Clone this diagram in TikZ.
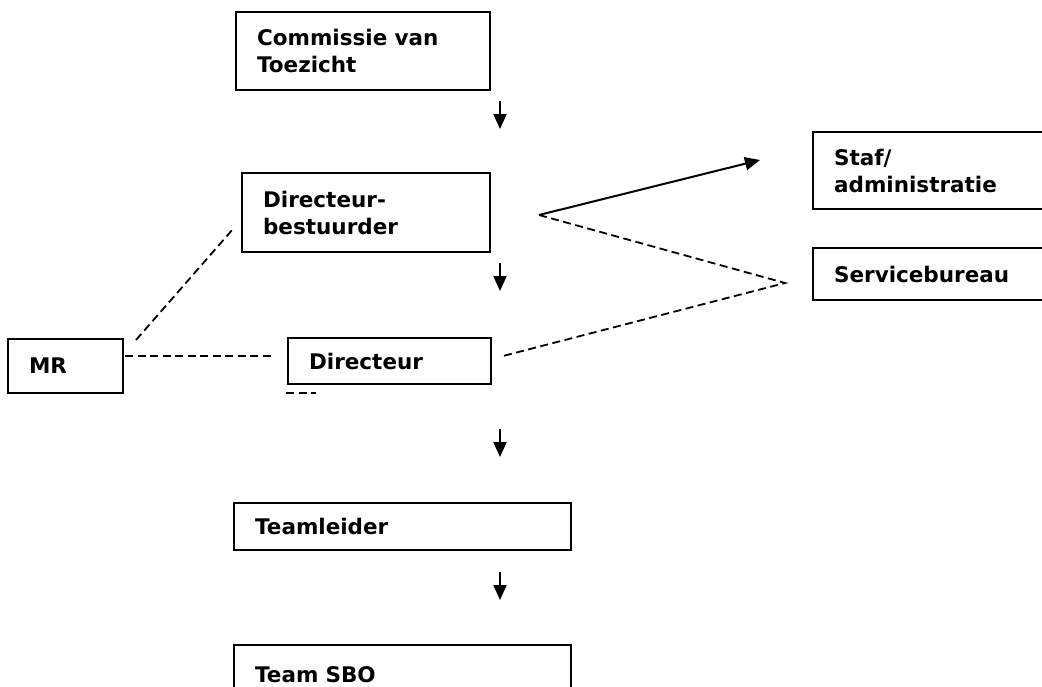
\documentclass[tikz,border=0pt]{standalone}
\usepackage{fontspec}
\setmainfont{DejaVu Sans}
\usetikzlibrary{arrows.meta}
\tikzset{>={Triangle[length=15pt,width=13pt]}}

\begin{document}
\begin{tikzpicture}[x=1pt,y=-1pt,
    box/.style={draw,line width=2.2pt,anchor=north west,align=left,inner xsep=21pt,inner ysep=0pt,
      font=\fontsize{21.5}{27}\selectfont\bfseries},
    stip/.style={line width=1.8pt,dash pattern=on 8pt off 4.5pt},
    pijl/.style={->,line width=2pt}]
    \useasboundingbox (0,0) rectangle (1042,686);
    %boxes
    \node[box,text width=212pt,minimum height=78pt] (cvt) at (235,11) {Commissie van\\Toezicht};
    \node[box,text width=206pt,minimum height=79pt] (db) at (241,172) {Directeur-\\bestuurder};
    \node[box,text width=198pt,minimum height=77pt] (staf) at (812,131) {Staf/\\administratie};
    \node[box,text width=198pt,minimum height=52pt] (sb) at (812,247) {Servicebureau};
    \node[box,text width=73pt,minimum height=54pt] (mr) at (7,338) {MR};
    \node[box,text width=161pt,minimum height=46pt] (dir) at (287,337) {Directeur};
    \node[box,text width=295pt,minimum height=47pt] (tl) at (233,502) {Teamleider};
    \node[box,text width=295pt,minimum height=60pt] (sbo) at (233,644) {Team SBO};
    %free ends
    \coordinate (splits) at (539,215);
    \coordinate (stafpunt) at (760,160);
    \coordinate (sbpunt) at (785,283);
    \coordinate (dirpunt) at (503,356);
    \coordinate (mrpunt) at (125,356);
    \coordinate (dirlinks) at (273,356);
    \coordinate (mrboven) at (136,340);
    \coordinate (dbpunt) at (233,229);
    \coordinate (restA) at (286,393);
    \coordinate (restB) at (316,393);
    %arrows down
    \foreach \y/\n in {101/1,263/2,429/3,572/4}{
      \coordinate (p\n) at (500,\y);
      \draw[pijl] (p\n) -- ++(0,28);
    }
    %lines
    \draw[pijl] (splits) -- (stafpunt);
    \draw[stip] (splits) -- (sbpunt) -- (dirpunt);
    \draw[stip] (mrpunt) -- (dirlinks);
    \draw[stip] (mrboven) -- (dbpunt);
    \draw[stip] (restA) -- (restB);
\end{tikzpicture}
\end{document}
